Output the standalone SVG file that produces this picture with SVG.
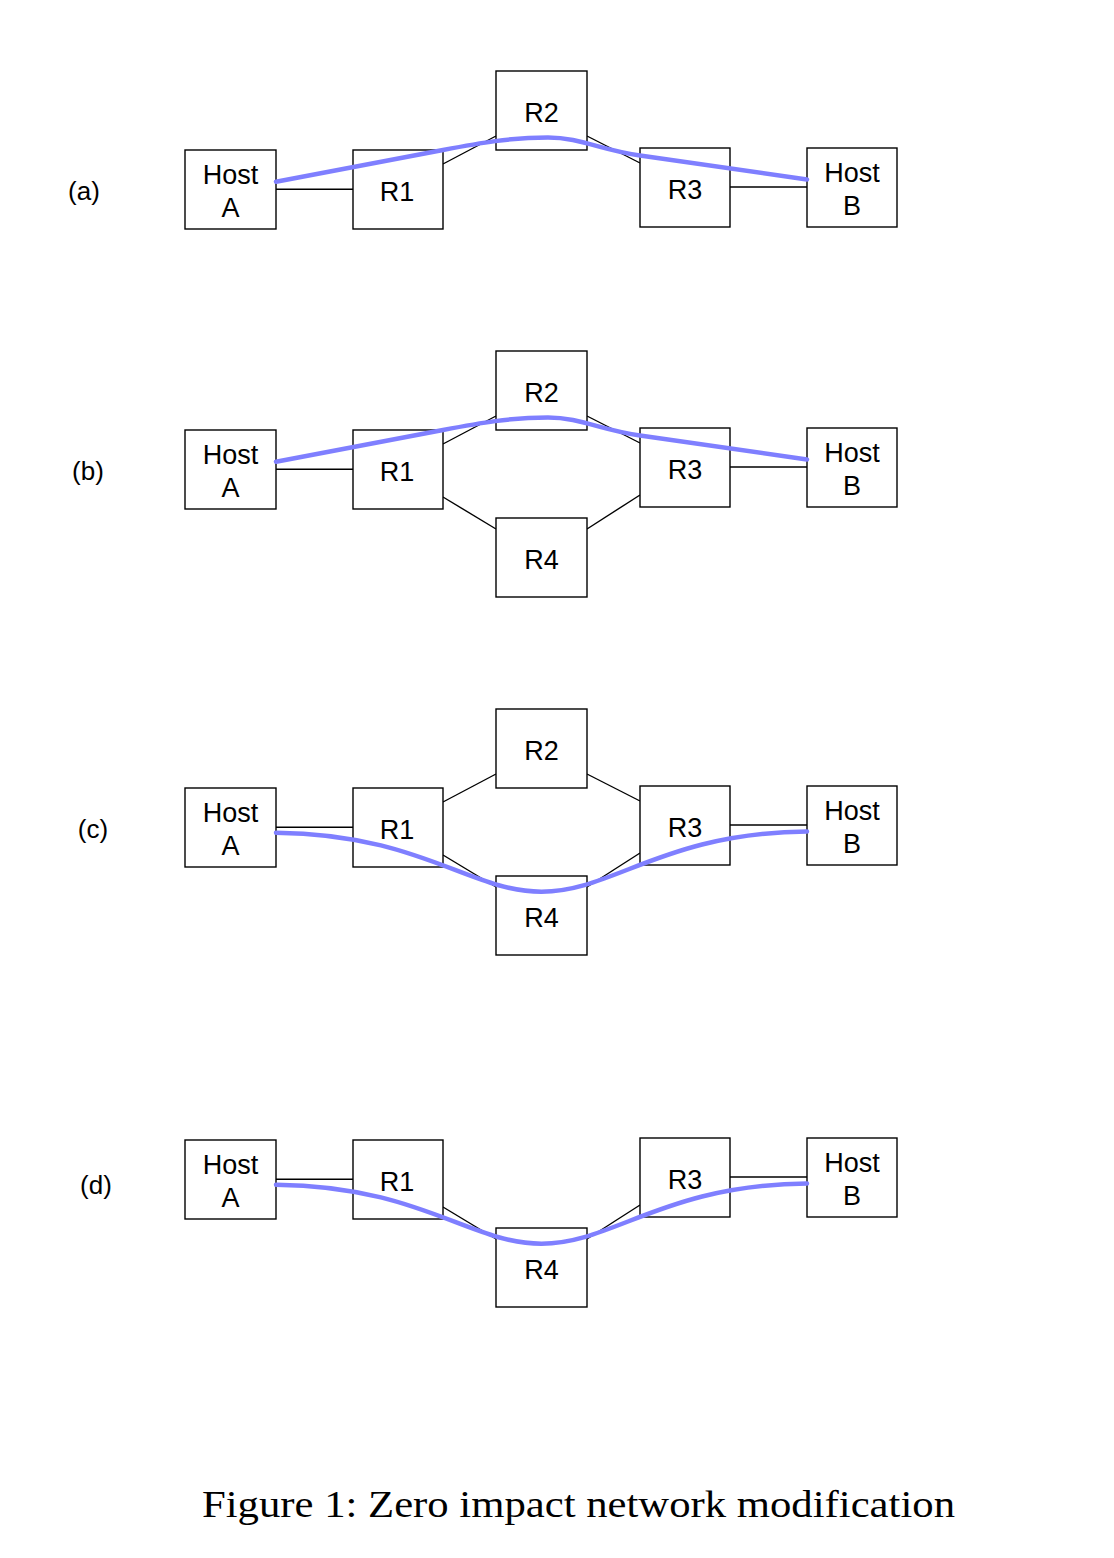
<svg xmlns="http://www.w3.org/2000/svg" width="1114" height="1558" viewBox="0 0 1114 1558">
<style>
.box{fill:#fff;stroke:#000;stroke-width:1.4}
.lnk{stroke:#000;stroke-width:1.4;fill:none}
.path{stroke:#7f7fff;stroke-width:4.5;fill:none;stroke-linecap:round}
.t{font-family:"Liberation Sans",Arial,sans-serif;font-size:27px;text-anchor:middle;fill:#000}
.p{font-family:"Liberation Sans",Arial,sans-serif;font-size:26px;text-anchor:middle;fill:#000}
.cap{font-family:"Liberation Serif","Times New Roman",serif;font-size:38px;fill:#000}
</style>
<rect width="1114" height="1558" fill="#fff"/>

<!-- connectors -->
<g id="connectors">
  <!-- (a) -->
  <line class="lnk" x1="276" y1="189.3" x2="353" y2="189.3"/>
  <line class="lnk" x1="443" y1="164" x2="496" y2="136"/>
  <line class="lnk" x1="587" y1="136" x2="640" y2="163"/>
  <line class="lnk" x1="730" y1="187" x2="807" y2="187"/>
  <!-- (b) -->
  <line class="lnk" x1="276" y1="469.3" x2="353" y2="469.3"/>
  <line class="lnk" x1="443" y1="444" x2="496" y2="416"/>
  <line class="lnk" x1="587" y1="416" x2="640" y2="443"/>
  <line class="lnk" x1="730" y1="467" x2="807" y2="467"/>
  <line class="lnk" x1="443" y1="497" x2="496" y2="529"/>
  <line class="lnk" x1="587" y1="529" x2="640" y2="495"/>
  <!-- (c) -->
  <line class="lnk" x1="276" y1="827.3" x2="353" y2="827.3"/>
  <line class="lnk" x1="443" y1="802" x2="496" y2="774"/>
  <line class="lnk" x1="587" y1="774" x2="640" y2="801"/>
  <line class="lnk" x1="730" y1="825" x2="807" y2="825"/>
  <line class="lnk" x1="443" y1="855" x2="496" y2="887"/>
  <line class="lnk" x1="587" y1="887" x2="640" y2="853"/>
  <!-- (d) -->
  <line class="lnk" x1="276" y1="1179.3" x2="353" y2="1179.3"/>
  <line class="lnk" x1="730" y1="1177" x2="807" y2="1177"/>
  <line class="lnk" x1="443" y1="1207" x2="496" y2="1239"/>
  <line class="lnk" x1="587" y1="1239" x2="640" y2="1205"/>
</g>

<!-- panel (a) -->
<g id="a-hostA"><rect class="box" x="185" y="150" width="91" height="79"/><text class="t" x="230.5" y="183.5">Host</text><text class="t" x="230.5" y="217">A</text></g>
<g id="a-R1"><rect class="box" x="353" y="150" width="90" height="79"/><text class="t" x="397" y="201">R1</text></g>
<g id="a-R2"><rect class="box" x="496" y="71" width="91" height="79"/><text class="t" x="541.5" y="122">R2</text></g>
<g id="a-R3"><rect class="box" x="640" y="148" width="90" height="79"/><text class="t" x="685" y="199">R3</text></g>
<g id="a-hostB"><rect class="box" x="807" y="148" width="90" height="79"/><text class="t" x="852" y="181.5">Host</text><text class="t" x="852" y="215">B</text></g>

<!-- panel (b) -->
<g id="b-hostA"><rect class="box" x="185" y="430" width="91" height="79"/><text class="t" x="230.5" y="463.5">Host</text><text class="t" x="230.5" y="497">A</text></g>
<g id="b-R1"><rect class="box" x="353" y="430" width="90" height="79"/><text class="t" x="397" y="481">R1</text></g>
<g id="b-R2"><rect class="box" x="496" y="351" width="91" height="79"/><text class="t" x="541.5" y="402">R2</text></g>
<g id="b-R3"><rect class="box" x="640" y="428" width="90" height="79"/><text class="t" x="685" y="479">R3</text></g>
<g id="b-hostB"><rect class="box" x="807" y="428" width="90" height="79"/><text class="t" x="852" y="461.5">Host</text><text class="t" x="852" y="495">B</text></g>
<g id="b-R4"><rect class="box" x="496" y="518" width="91" height="79"/><text class="t" x="541.5" y="569">R4</text></g>

<!-- panel (c) -->
<g id="c-hostA"><rect class="box" x="185" y="788" width="91" height="79"/><text class="t" x="230.5" y="821.5">Host</text><text class="t" x="230.5" y="855">A</text></g>
<g id="c-R1"><rect class="box" x="353" y="788" width="90" height="79"/><text class="t" x="397" y="839">R1</text></g>
<g id="c-R2"><rect class="box" x="496" y="709" width="91" height="79"/><text class="t" x="541.5" y="760">R2</text></g>
<g id="c-R3"><rect class="box" x="640" y="786" width="90" height="79"/><text class="t" x="685" y="837">R3</text></g>
<g id="c-hostB"><rect class="box" x="807" y="786" width="90" height="79"/><text class="t" x="852" y="819.5">Host</text><text class="t" x="852" y="853">B</text></g>
<g id="c-R4"><rect class="box" x="496" y="876" width="91" height="79"/><text class="t" x="541.5" y="927">R4</text></g>

<!-- panel (d) -->
<g id="d-hostA"><rect class="box" x="185" y="1140" width="91" height="79"/><text class="t" x="230.5" y="1173.5">Host</text><text class="t" x="230.5" y="1207">A</text></g>
<g id="d-R1"><rect class="box" x="353" y="1140" width="90" height="79"/><text class="t" x="397" y="1191">R1</text></g>
<g id="d-R3"><rect class="box" x="640" y="1138" width="90" height="79"/><text class="t" x="685" y="1189">R3</text></g>
<g id="d-hostB"><rect class="box" x="807" y="1138" width="90" height="79"/><text class="t" x="852" y="1171.5">Host</text><text class="t" x="852" y="1205">B</text></g>
<g id="d-R4"><rect class="box" x="496" y="1228" width="91" height="79"/><text class="t" x="541.5" y="1279">R4</text></g>

<!-- traffic paths -->
<g id="paths">
  <path class="path" d="M276,181.7 L443,150 C480,143 510,137.5 548,137.5 C580,137.5 600,149.8 640,155.5 L807,179.5"/>
  <path class="path" d="M276,461.7 L443,430 C480,423 510,417.5 548,417.5 C580,417.5 600,429.8 640,435.5 L807,459.5"/>
  <path class="path" d="M276,832.7 C420,834 470,891.7 541.5,891.7 C613,891.7 663,833 807,831.5"/>
  <path class="path" d="M276,1184.7 C420,1186 470,1243.7 541.5,1243.7 C613,1243.7 663,1185 807,1183.5"/>
</g>

<!-- panel labels -->
<text class="p" x="84" y="200">(a)</text>
<text class="p" x="88" y="480">(b)</text>
<text class="p" x="93" y="838">(c)</text>
<text class="p" x="96" y="1194">(d)</text>

<text class="cap" x="202" y="1517" textLength="753" lengthAdjust="spacingAndGlyphs">Figure 1: Zero impact network modification</text>
</svg>
